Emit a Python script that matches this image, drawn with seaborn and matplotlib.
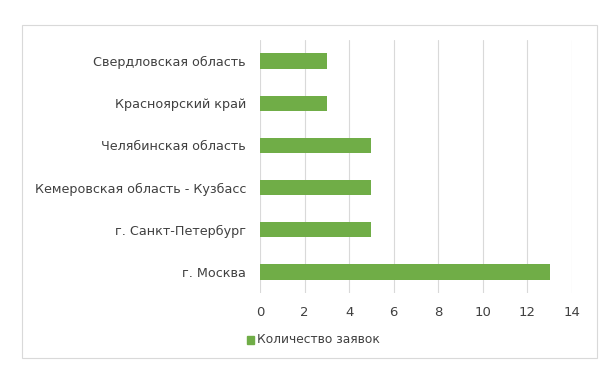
import matplotlib
matplotlib.use("Agg")
import matplotlib.pyplot as plt
import seaborn as sns
import pandas as pd
from matplotlib.patches import Rectangle

regions = ["Свердловская область", "Красноярский край", "Челябинская область",
           "Кемеровская область - Кузбасс", "г. Санкт-Петербург", "г. Москва"]
counts = [3, 3, 5, 5, 5, 13]
series_name = "Количество заявок"
xticks = [0, 2, 4, 6, 8, 10, 12, 14]

df = pd.DataFrame({"region": regions, "count": counts, "series": series_name})

sns.set_theme(style="white")
plt.rcParams['font.family'] = ['DejaVu Sans']

fig = plt.figure(figsize=(6.11, 3.76), dpi=100)
ax = fig.add_axes([260/611, 1-293/376, 312/611, 253/376])

sns.barplot(data=df, y="region", x="count", hue="series", orient="h",
            palette=["#70AD47"], saturation=1, width=0.36, linewidth=0,
            ax=ax, zorder=3, legend=False)

ax.set_xlim(0, 14)
ax.set_xticks(xticks)
ax.set_ylim(5.5, -0.5)
ax.set_xlabel("")
ax.set_ylabel("")
for s in ax.spines.values():
    s.set_visible(False)
ax.grid(axis="x", color="#D9D9D9", linewidth=0.8, zorder=0)
ax.set_axisbelow(True)
ax.tick_params(axis="y", length=0, labelsize=9.2, labelcolor="#404040", pad=10)
ax.tick_params(axis="x", length=0, labelsize=9.5, labelcolor="#404040", pad=9)

# legend
fig.patches.append(Rectangle((247/611, 1-343.5/376), 7.5/611, 7.5/376,
                             transform=fig.transFigure, color="#70AD47"))
fig.text(257/611, 1-339.5/376, series_name, fontsize=8.8, color="#404040",
         va="center", ha="left")

# border
fig.patches.append(Rectangle((22/611, 1-358/376), 575/611, 333/376,
                             transform=fig.transFigure, fill=False,
                             edgecolor="#D9D9D9", linewidth=0.8))

fig.savefig("out.png", dpi=100)
